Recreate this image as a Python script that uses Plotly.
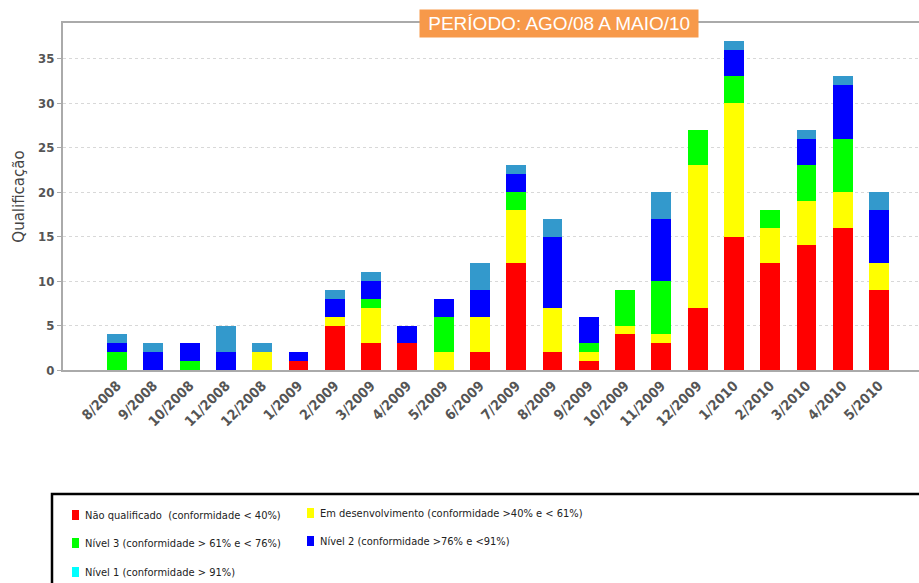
import plotly.graph_objects as go

categories = ["8/2008", "9/2008", "10/2008", "11/2008", "12/2008", "1/2009", "2/2009",
              "3/2009", "4/2009", "5/2009", "6/2009", "7/2009", "8/2009", "9/2009",
              "10/2009", "11/2009", "12/2009", "1/2010", "2/2010", "3/2010", "4/2010", "5/2010"]

nao_qualificado = [0, 0, 0, 0, 0, 1, 5, 3, 3, 0, 2, 12, 2, 1, 4, 3, 7, 15, 12, 14, 16, 9]
em_desenvolvimento = [0, 0, 0, 0, 2, 0, 1, 4, 0, 2, 4, 6, 5, 1, 1, 1, 16, 15, 4, 5, 4, 3]
nivel3 = [2, 0, 1, 0, 0, 0, 0, 1, 0, 4, 0, 2, 0, 1, 4, 6, 4, 3, 2, 4, 6, 0]
nivel2 = [1, 2, 2, 2, 0, 1, 2, 2, 2, 2, 3, 2, 8, 3, 0, 7, 0, 3, 0, 3, 6, 6]
nivel1 = [1, 1, 0, 3, 1, 0, 1, 1, 0, 0, 3, 1, 2, 0, 0, 3, 0, 1, 0, 1, 1, 2]

y_ticks = [0, 5, 10, 15, 20, 25, 30, 35]

series_names = [
    "Não qualificado  (conformidade < 40%)",
    "Em desenvolvimento (conformidade >40% e < 61%)",
    "Nível 3 (conformidade > 61% e < 76%)",
    "Nível 2 (conformidade >76% e <91%)",
    "Nível 1 (conformidade > 91%)",
]
series_values = [nao_qualificado, em_desenvolvimento, nivel3, nivel2, nivel1]
bar_colors = ["#FF0000", "#FFFF00", "#00FF00", "#0000FF", "#3399CC"]
legend_colors = ["#FF0000", "#FFFF00", "#00FF00", "#0000FF", "#00FFFF"]

W, H = 919, 583
L, R, T, B = 63, 0, 23, 213
PW, PH = W - L - R, H - T - B


def px(x):
    return (x - L) / PW


def py(y):
    return (H - B - y) / PH


fig = go.Figure()
for name, vals, col in zip(series_names, series_values, bar_colors):
    fig.add_trace(go.Bar(x=categories, y=vals, name=name,
                         marker=dict(color=col, line=dict(width=0)),
                         showlegend=False))

shapes = []
annotations = []

# legend box (cut by the image edges)
shapes.append(dict(type="rect", xref="paper", yref="paper",
                   x0=px(52), x1=px(935), y0=py(494), y1=py(600),
                   line=dict(color="black", width=2.5), fillcolor="rgba(0,0,0,0)"))

legend_pos = [(72, 515), (307, 513), (72, 543), (307, 541), (72, 572)]
for (lx, ly), name, col in zip(legend_pos, series_names, legend_colors):
    shapes.append(dict(type="rect", xref="paper", yref="paper",
                       x0=px(lx), x1=px(lx + 7), y0=py(ly + 5), y1=py(ly - 5),
                       line=dict(width=0), fillcolor=col))
    annotations.append(dict(xref="paper", yref="paper", x=px(lx + 11), y=py(ly),
                            xanchor="left", yanchor="middle", showarrow=False,
                            text=name,
                            font=dict(family="Liberation Sans Narrow, DejaVu Sans Condensed, sans-serif",
                                      size=11, color="#222")))

# title badge
annotations.append(dict(xref="paper", yref="paper", x=px(559), y=py(23.5),
                        xanchor="center", yanchor="middle", showarrow=False,
                        text="\u00a0PERÍODO: AGO/08 A MAIO/10\u00a0",
                        bgcolor="#F7994A", borderpad=3,
                        font=dict(family="Liberation Sans, Arial, sans-serif", size=19, color="white")))

fig.update_layout(
    width=W, height=H,
    margin=dict(l=L, r=R, t=T, b=B),
    barmode="stack",
    bargap=0.45,
    plot_bgcolor="white",
    paper_bgcolor="white",
    shapes=shapes,
    annotations=annotations,
    font=dict(family="DejaVu Sans, sans-serif"),
)
fig.update_xaxes(
    type="category",
    range=[-1.49, 22.1],
    tickangle=-45,
    tickfont=dict(size=14, color="#555", family="DejaVu Sans Condensed, DejaVu Sans, sans-serif", weight="bold"),
    showline=True, linecolor="#AAAAAA", linewidth=2, mirror=True,
    showgrid=False, ticks="",
)
fig.update_yaxes(
    range=[0, 39],
    tickvals=y_ticks,
    tickfont=dict(size=13, color="#555", family="DejaVu Sans Condensed, DejaVu Sans, sans-serif", weight="bold"),
    showline=True, linecolor="#AAAAAA", linewidth=2,
    showgrid=True, gridcolor="#D8D8D8", griddash="dot", gridwidth=1,
    zeroline=False, ticks="outside", ticklen=4, tickcolor="#AAAAAA",
    title=dict(text="Qualificação", font=dict(size=15, color="#444"), standoff=10),
)

fig.write_html("out.html", config={"displayModeBar": False},
               post_script="document.body.style.margin='0';")
